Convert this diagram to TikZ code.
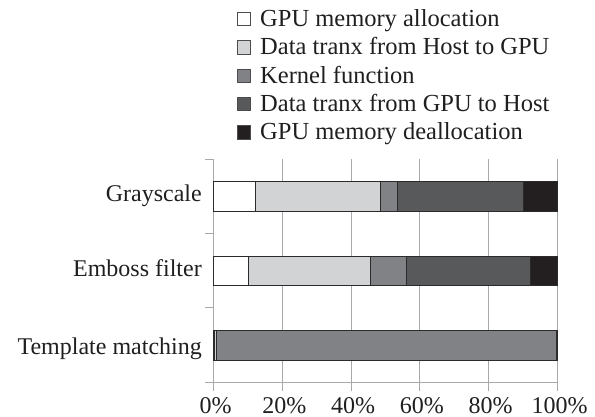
\documentclass[tikz,border=0pt]{standalone}
\usepackage{fontspec}
\setmainfont{Liberation Serif}
\definecolor{cAlloc}{HTML}{FFFFFF}
\definecolor{cHtoD}{HTML}{D1D3D4}
\definecolor{cKern}{HTML}{808285}
\definecolor{cDtoH}{HTML}{58595B}
\definecolor{cFree}{HTML}{231F20}
\definecolor{gridgray}{HTML}{A7A9AC}
\definecolor{edgec}{HTML}{2B2B2B}
\newcommand\pctx[1]{213.5+3.44*#1}
\newcommand\barseg[4]{\draw[seg, fill=#1] ({\pctx{#2}},{#4-14.9}) rectangle ({\pctx{#3}},{#4+14.9});}
\begin{document}
\begin{tikzpicture}[x=1pt,y=-1pt,
  gridline/.style={draw=gridgray, line width=0.9pt},
  seg/.style={draw=edgec, line width=0.8pt},
  lab/.style={font=\fontsize{24}{28}\selectfont, inner sep=0pt, text=black!88},
  leglab/.style={font=\fontsize{24.5}{28}\selectfont, inner sep=0pt, text=black!88},
  legsq/.style={draw=black!70, line width=0.7pt}]
\useasboundingbox (0,0) rectangle (595,417);
% grid and axes
\foreach \p in {20,40,60,80,100}
  \draw[gridline] ({\pctx{\p}},159.3) -- ({\pctx{\p}},390.7);
\draw[gridline] (213.5,159.3) -- (213.5,390.7);
\foreach \yy in {159.3,233,307.3}
  \draw[gridline] (205,\yy) -- (213.5,\yy);
\draw[gridline] (205,382.8) -- (557.5,382.8);
% Grayscale bar
\barseg{cAlloc}{0}{12.3}{196.7}
\barseg{cHtoD}{12.3}{48.6}{196.7}
\barseg{cKern}{48.6}{53.4}{196.7}
\barseg{cDtoH}{53.4}{90}{196.7}
\barseg{cFree}{90}{100}{196.7}
% Emboss bar
\barseg{cAlloc}{0}{10.2}{270.9}
\barseg{cHtoD}{10.2}{45.7}{270.9}
\barseg{cKern}{45.7}{56}{270.9}
\barseg{cDtoH}{56}{92}{270.9}
\barseg{cFree}{92}{100}{270.9}
% Template bar
\barseg{cAlloc}{0}{0.4}{345.5}
\barseg{cHtoD}{0.4}{0.8}{345.5}
\barseg{cKern}{0.8}{99.6}{345.5}
\barseg{cFree}{99.6}{100}{345.5}
% category labels
\node[lab, anchor=base east] (gray) at (202,201.7) {Grayscale};
\node[lab, anchor=base east] (emb) at (202,276.5) {Emboss filter};
\node[lab, anchor=base east] (tmpl) at (202,354) {Template matching};
% tick labels
\foreach \p in {0,20,40,60,80,100}
  \node[lab, anchor=base] (t\p) at ({\pctx{\p}+2},413.3) {\p\%};
% legend
\foreach \i/\c [count=\k] in {cAlloc/GPU memory allocation,cHtoD/Data tranx from Host to GPU,cKern/Kernel function,cDtoH/Data tranx from GPU to Host,cFree/GPU memory deallocation}{
  \pgfmathsetmacro\bl{26.6+28.3*(\k-1)}
  \draw[legsq, fill=\i] (237,\bl-14.3) rectangle (250.5,\bl-0.8);
  \node[leglab, anchor=base west] (leg\k) at (260,\bl) {\c};
}
\end{tikzpicture}
\end{document}
